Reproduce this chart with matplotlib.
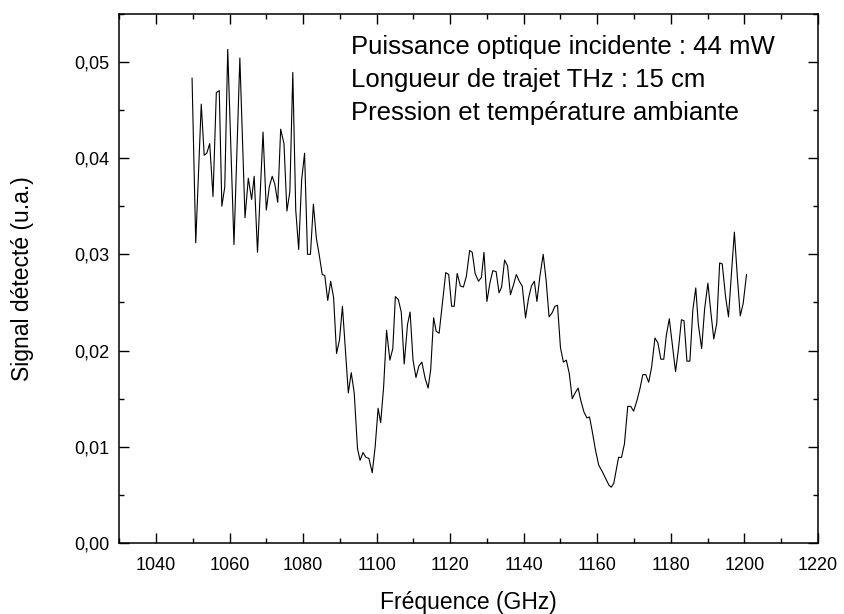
import numpy as np
import matplotlib
matplotlib.use("Agg")
import matplotlib.pyplot as plt
from matplotlib.ticker import MultipleLocator, FuncFormatter

plt.rcParams['font.family'] = ['Liberation Sans', 'DejaVu Sans']

# spectre mesuré : fréquence (GHz) / signal détecté (u.a.)
freq = [
    1049.8, 1050.8, 1052.3, 1053.1, 1053.8, 1054.6, 1055.5, 1056.4, 1057.2, 1057.9,
    1058.7, 1059.5, 1061.2, 1062.8, 1064.2, 1065.1, 1066.0, 1066.7, 1067.6, 1069.1,
    1070.0, 1070.8, 1071.6, 1072.3, 1073.1, 1073.9, 1074.8, 1075.6, 1076.4, 1077.2,
    1078.0, 1078.8, 1079.6, 1080.4, 1081.2, 1082.0, 1082.8, 1083.6, 1084.4, 1085.2,
    1085.9, 1086.7, 1087.5, 1088.3, 1089.1, 1089.9, 1090.7, 1091.5, 1092.3, 1093.1,
    1093.9, 1094.8, 1095.5, 1096.3, 1097.1, 1097.9, 1098.8, 1099.6, 1100.4, 1101.1,
    1101.9, 1102.7, 1103.6, 1104.4, 1105.1, 1105.9, 1106.7, 1107.5, 1108.4, 1109.1,
    1109.9, 1110.7, 1111.5, 1112.3, 1113.2, 1114.0, 1114.7, 1115.5, 1116.2, 1117.0,
    1117.9, 1118.8, 1119.6, 1120.4, 1121.1, 1121.9, 1122.8, 1123.6, 1124.4, 1125.3,
    1126.0, 1126.8, 1127.7, 1128.5, 1129.2, 1130.0, 1130.8, 1131.6, 1132.5, 1133.3,
    1134.0, 1134.8, 1135.6, 1136.4, 1137.2, 1138.0, 1138.8, 1139.6, 1140.5, 1141.3,
    1142.1, 1142.9, 1143.6, 1144.4, 1145.3, 1146.1, 1146.9, 1147.7, 1148.5, 1149.2,
    1150.0, 1150.8, 1151.6, 1152.4, 1153.2, 1154.0, 1154.8, 1155.6, 1156.4, 1157.2,
    1157.9, 1158.6, 1159.5, 1160.4, 1161.4, 1162.3, 1163.2, 1163.8, 1164.5, 1165.3,
    1165.8, 1166.6, 1167.4, 1168.3, 1169.1, 1169.9, 1170.8, 1171.6, 1172.4, 1173.2,
    1174.0, 1174.8, 1175.7, 1176.5, 1177.3, 1178.1, 1178.8, 1179.6, 1181.3, 1182.1,
    1182.9, 1183.6, 1184.4, 1185.2, 1186.0, 1186.8, 1187.5, 1188.4, 1189.2, 1190.1,
    1190.9, 1191.7, 1192.5, 1193.3, 1194.0, 1194.9, 1195.7, 1196.5, 1197.3, 1198.1,
    1198.9, 1199.7, 1200.6,
]
signal = [
    0.0483, 0.0312, 0.0456, 0.0403, 0.0405, 0.0415, 0.0360, 0.0468, 0.0470, 0.0350,
    0.0370, 0.0513, 0.0310, 0.0504, 0.0338, 0.0379, 0.0357, 0.0381, 0.0302, 0.0427,
    0.0346, 0.0370, 0.0381, 0.0373, 0.0354, 0.0430, 0.0415, 0.0345, 0.0365, 0.0489,
    0.0346, 0.0305, 0.0377, 0.0405, 0.0300, 0.0300, 0.0352, 0.0317, 0.0299, 0.0279,
    0.0278, 0.0252, 0.0272, 0.0255, 0.0197, 0.0211, 0.0246, 0.0201, 0.0156, 0.0177,
    0.0156, 0.0098, 0.0086, 0.0094, 0.0089, 0.0088, 0.0073, 0.0100, 0.0140, 0.0125,
    0.0162, 0.0221, 0.0190, 0.0202, 0.0256, 0.0253, 0.0240, 0.0186, 0.0227, 0.0240,
    0.0190, 0.0172, 0.0184, 0.0188, 0.0171, 0.0161, 0.0180, 0.0234, 0.0220, 0.0218,
    0.0250, 0.0281, 0.0279, 0.0246, 0.0246, 0.0280, 0.0267, 0.0266, 0.0277, 0.0304,
    0.0302, 0.0280, 0.0272, 0.0276, 0.0302, 0.0251, 0.0270, 0.0283, 0.0282, 0.0260,
    0.0266, 0.0294, 0.0288, 0.0258, 0.0268, 0.0279, 0.0272, 0.0267, 0.0234, 0.0254,
    0.0267, 0.0272, 0.0251, 0.0277, 0.0300, 0.0273, 0.0235, 0.0239, 0.0246, 0.0247,
    0.0203, 0.0188, 0.0190, 0.0176, 0.0150, 0.0156, 0.0161, 0.0147, 0.0136, 0.0130,
    0.0131, 0.0117, 0.0097, 0.0081, 0.0074, 0.0067, 0.0060, 0.0058, 0.0062, 0.0079,
    0.0089, 0.0089, 0.0103, 0.0142, 0.0142, 0.0137, 0.0148, 0.0160, 0.0175, 0.0175,
    0.0167, 0.0183, 0.0213, 0.0208, 0.0191, 0.0191, 0.0216, 0.0233, 0.0178, 0.0202,
    0.0232, 0.0231, 0.0189, 0.0189, 0.0242, 0.0265, 0.0227, 0.0202, 0.0243, 0.0270,
    0.0240, 0.0212, 0.0228, 0.0291, 0.0290, 0.0256, 0.0235, 0.0280, 0.0323, 0.0277,
    0.0236, 0.0249, 0.0279,
]

conditions = [
    "Puissance optique incidente : 44 mW",
    "Longueur de trajet THz : 15 cm",
    "Pression et température ambiante",
]

fig = plt.figure(figsize=(8.44, 6.14), dpi=100)
ax = fig.add_axes([0.1413, 0.1156, 0.8277, 0.8621])

ax.plot(freq, signal, color='black', linewidth=0.8)

ax.set_xlim(1030, 1220)
ax.set_ylim(0, 0.055)
ax.xaxis.set_major_locator(MultipleLocator(20))
ax.xaxis.set_minor_locator(MultipleLocator(10))
ax.yaxis.set_major_locator(MultipleLocator(0.01))
ax.yaxis.set_minor_locator(MultipleLocator(0.005))
ax.yaxis.set_major_formatter(FuncFormatter(lambda v, p: ('%.2f' % v).replace('.', ',')))
ax.xaxis.set_major_formatter(FuncFormatter(lambda v, p: '%d' % v if v >= 1040 else ''))

ax.tick_params(which='both', direction='in', top=True, right=True, labelsize=13, width=1.0)
ax.tick_params(which='major', length=7)
ax.tick_params(which='minor', length=3.5)
ax.tick_params(axis='x', which='major', pad=10)
ax.tick_params(axis='y', which='major', pad=7)
for s in ax.spines.values():
    s.set_linewidth(1.1)

ax.set_xlabel("Fréquence (GHz)", fontsize=16.5, labelpad=12)
ax.set_ylabel("Signal détecté (u.a.)", fontsize=16.5, labelpad=29)

for i, line in enumerate(conditions):
    ax.text(0.332, 0.9376 - i * 0.0624, line, transform=ax.transAxes,
            fontsize=18.5, ha='left', va='center')

fig.savefig("out.png", dpi=100)
